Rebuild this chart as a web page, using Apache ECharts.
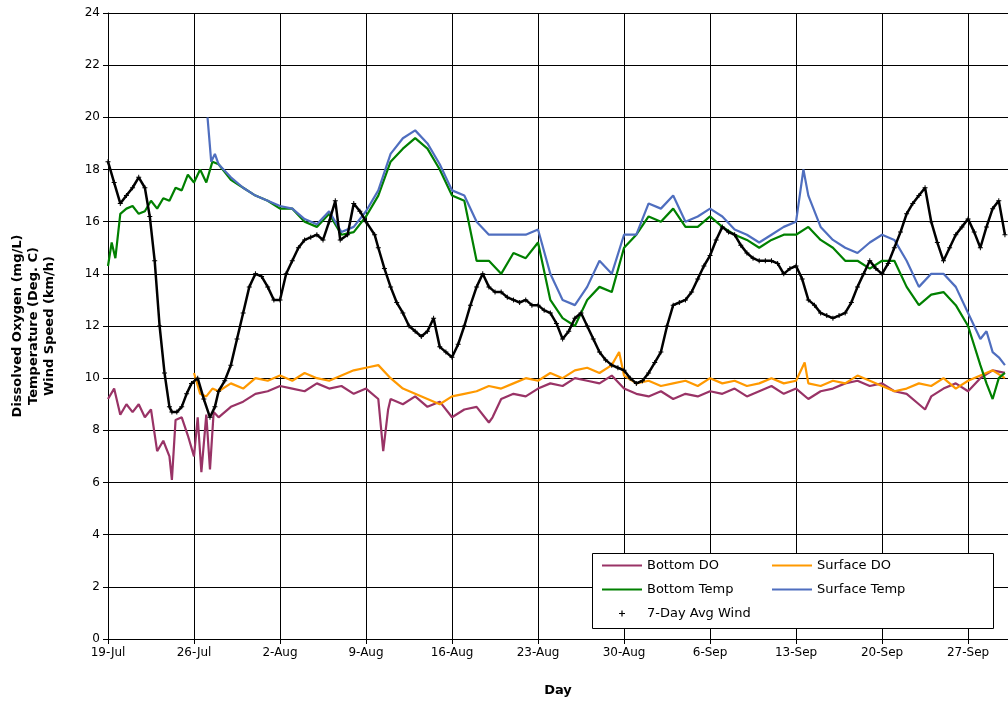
<!DOCTYPE html>
<html><head><meta charset="utf-8">
<script src="https://cdn.jsdelivr.net/npm/echarts@6/dist/echarts.min.js"></script>
<style>html,body{margin:0;background:#fff}#c{width:1008px;height:702px}</style>
</head><body><div id="c"></div>
<script>
const tickLabels=['19-Jul','26-Jul','2-Aug','9-Aug','16-Aug','23-Aug','30-Aug','6-Sep','13-Sep','20-Sep','27-Sep'];
const botDODays=[0,0.5,1,1.5,2,2.5,3,3.5,4,4.5,5,5.2,5.5,6,6.5,7,7.3,7.6,8,8.3,8.6,9,10,11,12,13,14,15,16,17,18,19,20,21,22,22.4,22.8,23,24,25,26,27,28,29,30,31,31.3,32,33,34,35,36,37,38,39,40,41,42,43,44,45,46,47,48,49,50,51,52,53,54,55,56,57,58,59,60,61,62,63,64,65,66,66.5,67,68,69,70,71,72,73];
const botDO=[9.2,9.6,8.6,9.0,8.7,9.0,8.5,8.8,7.2,7.6,7.0,6.1,8.4,8.5,7.8,7.0,8.5,6.4,8.6,6.5,8.7,8.5,8.9,9.1,9.4,9.5,9.7,9.6,9.5,9.8,9.6,9.7,9.4,9.6,9.2,7.2,8.8,9.2,9.0,9.3,8.9,9.1,8.5,8.8,8.9,8.3,8.5,9.2,9.4,9.3,9.6,9.8,9.7,10.0,9.9,9.8,10.1,9.6,9.4,9.3,9.5,9.2,9.4,9.3,9.5,9.4,9.6,9.3,9.5,9.7,9.4,9.6,9.2,9.5,9.6,9.8,9.9,9.7,9.8,9.5,9.4,9.0,8.8,9.3,9.6,9.8,9.5,10.0,10.3,10.2];
const surfDODays=[7,7.5,8,8.5,9,10,11,12,13,14,15,16,17,18,19,20,21,22,23,24,25,26,27,28,29,30,31,32,33,34,35,36,37,38,39,40,41,41.6,42,43,44,45,46,47,48,49,50,51,52,53,54,55,56,56.7,57,58,59,60,61,62,63,64,65,66,67,68,69,70,71,72,73];
const surfDO=[10.2,9.4,9.3,9.6,9.5,9.8,9.6,10.0,9.9,10.1,9.9,10.2,10.0,9.9,10.1,10.3,10.4,10.5,10.0,9.6,9.4,9.2,9.0,9.3,9.4,9.5,9.7,9.6,9.8,10.0,9.9,10.2,10.0,10.3,10.4,10.2,10.5,11.0,10.1,9.8,9.9,9.7,9.8,9.9,9.7,10.0,9.8,9.9,9.7,9.8,10.0,9.8,9.9,10.6,9.8,9.7,9.9,9.8,10.1,9.9,9.7,9.5,9.6,9.8,9.7,10.0,9.6,9.9,10.1,10.3,10.0];
const botTDays=[0,0.3,0.6,1,1.5,2,2.5,3,3.5,4,4.5,5,5.5,6,6.5,7,7.5,8,8.5,9,10,11,12,13,14,15,16,17,18,19,20,21,22,23,24,25,26,27,28,29,30,31,32,33,34,35,36,37,38,39,40,41,42,43,44,45,46,47,48,49,50,51,52,53,54,55,56,57,58,59,60,61,62,63,64,65,66,67,68,69,70,71,71.5,72,72.5,73];
const botT=[14.3,15.2,14.6,16.3,16.5,16.6,16.3,16.4,16.8,16.5,16.9,16.8,17.3,17.2,17.8,17.5,18.0,17.5,18.3,18.2,17.6,17.3,17.0,16.8,16.5,16.5,16.0,15.8,16.3,15.5,15.6,16.2,17.0,18.3,18.8,19.2,18.8,18.0,17.0,16.8,14.5,14.5,14.0,14.8,14.6,15.2,13.0,12.3,12.0,13.0,13.5,13.3,15.0,15.5,16.2,16.0,16.5,15.8,15.8,16.2,15.8,15.5,15.3,15.0,15.3,15.5,15.5,15.8,15.3,15.0,14.5,14.5,14.2,14.5,14.5,13.5,12.8,13.2,13.3,12.8,12.0,10.5,9.8,9.2,10.0,10.2];
const surfTDays=[8.1,8.4,8.7,9,10,11,12,13,14,15,16,17,18,19,20,21,22,23,24,25,26,27,28,29,30,31,32,33,34,35,36,37,38,39,40,41,42,43,44,45,46,47,48,49,50,51,52,53,54,55,56,56.6,57,58,59,60,61,62,63,64,65,66,67,68,69,70,71,71.5,72,72.5,73];
const surfT=[20.0,18.3,18.6,18.2,17.7,17.3,17.0,16.8,16.6,16.5,16.1,15.9,16.4,15.6,15.8,16.4,17.2,18.6,19.2,19.5,19.0,18.2,17.2,17.0,16.0,15.5,15.5,15.5,15.5,15.7,14.0,13.0,12.8,13.5,14.5,14.0,15.5,15.5,16.7,16.5,17.0,16.0,16.2,16.5,16.2,15.7,15.5,15.2,15.5,15.8,16.0,18.0,17.0,15.8,15.3,15.0,14.8,15.2,15.5,15.3,14.5,13.5,14.0,14.0,13.5,12.5,11.5,11.8,11.0,10.8,10.5];
const windDays=[0,0.5,1,1.5,2,2.5,3,3.4,3.8,4.2,4.6,5,5.2,5.6,6,6.4,6.8,7.3,7.8,8.3,8.7,9,9.5,10,10.5,11,11.5,12,12.5,13,13.5,14,14.5,15,15.5,16,16.5,17,17.5,18,18.5,18.9,19.5,20,20.5,21,21.7,22,22.5,23,23.5,24,24.5,25,25.5,26,26.5,27,27.5,28,28.5,29,29.5,30,30.5,31,31.5,32,32.5,33,33.5,34,34.5,35,35.5,36,36.5,37,37.5,38,38.5,39,39.5,40,40.5,41,41.5,42,42.5,43,43.5,44,44.5,45,45.5,46,46.5,47,47.5,48,48.5,49,49.5,50,50.5,51,51.5,52,52.5,53,53.5,54,54.5,55,55.5,56,56.5,57,57.5,58,58.5,59,59.5,60,60.5,61,61.5,62,62.5,63,63.5,64,64.5,65,65.5,66,66.5,67,67.5,68,68.5,69,69.5,70,70.5,71,71.5,72,72.5,73];
const wind=[18.3,17.5,16.7,17.0,17.3,17.7,17.3,16.2,14.5,12.0,10.2,8.9,8.7,8.7,8.9,9.4,9.8,10.0,9.2,8.5,8.9,9.5,9.9,10.5,11.5,12.5,13.5,14.0,13.9,13.5,13.0,13.0,14.0,14.5,15.0,15.3,15.4,15.5,15.3,16.0,16.8,15.3,15.5,16.7,16.4,16.0,15.5,15.0,14.2,13.5,12.9,12.5,12.0,11.8,11.6,11.8,12.3,11.2,11.0,10.8,11.3,12.0,12.8,13.5,14.0,13.5,13.3,13.3,13.1,13.0,12.9,13.0,12.8,12.8,12.6,12.5,12.1,11.5,11.8,12.3,12.5,12.0,11.5,11.0,10.7,10.5,10.4,10.3,10.0,9.8,9.9,10.2,10.6,11.0,12.0,12.8,12.9,13.0,13.3,13.8,14.3,14.7,15.3,15.8,15.6,15.5,15.1,14.8,14.6,14.5,14.5,14.5,14.4,14.0,14.2,14.3,13.8,13.0,12.8,12.5,12.4,12.3,12.4,12.5,12.9,13.5,14.0,14.5,14.2,14.0,14.4,15.0,15.6,16.3,16.7,17.0,17.3,16.0,15.2,14.5,15.0,15.5,15.8,16.1,15.6,15.0,15.8,16.5,16.8,15.5];
const pairs=(d,v)=>d.map((x,i)=>[x,v[i]]);
const chart=echarts.init(document.getElementById('c'));
const F='DejaVu Sans';
const CROSS='path://M4,0H6V4H10V6H6V10H4V6H0V4H4Z';
const LCROSS='path://M0,0L0,0ZM40,10L40,10ZM19.4,2H20.6V4.4H23V5.6H20.6V8H19.4V5.6H17V4.4H19.4Z';
const LINE='path://M0,0L0,0ZM40,10L40,10ZM0,4H40V6H0Z';
const legBase={orient:'vertical',itemGap:11,itemWidth:40,itemHeight:10,padding:0,
  textStyle:{fontFamily:F,fontSize:13,color:'#000'}};
chart.setOption({
  animation:false,
  grid:{left:108,right:0,top:13,bottom:61,containLabel:false},
  graphic:[{type:'rect',left:592,top:553,shape:{width:401,height:75},style:{fill:'#fff',stroke:'#000',lineWidth:1},z:100}],
  xAxis:{type:'value',min:0,max:73.25,interval:7,name:'Day',nameLocation:'middle',nameGap:45,
    nameTextStyle:{fontFamily:F,fontWeight:'bold',fontSize:13,color:'#000'},
    axisLine:{lineStyle:{color:'#000'}},axisTick:{show:true,lineStyle:{color:'#000'}},
    axisLabel:{fontFamily:F,fontSize:12,color:'#000',showMaxLabel:false,formatter:v=>tickLabels[Math.round(v/7)]||''},
    splitLine:{show:true,lineStyle:{color:'#000',width:1}}},
  yAxis:{type:'value',min:0,max:24,interval:2,name:'Dissolved Oxygen (mg/L)\nTemperature (Deg. C)\nWind Speed (km/h)',
    nameLocation:'middle',nameGap:50,nameTextStyle:{fontFamily:F,fontWeight:'bold',fontSize:13,color:'#000',lineHeight:16},
    axisLine:{show:true,lineStyle:{color:'#000'}},axisTick:{show:true,lineStyle:{color:'#000'}},
    axisLabel:{fontFamily:F,fontSize:12,color:'#000'},
    splitLine:{lineStyle:{color:'#000',width:1}}},
  legend:[
    Object.assign({left:602,top:559,z:110,data:[{name:'Bottom DO',icon:LINE},{name:'Bottom Temp',icon:LINE},{name:'7-Day Avg Wind',icon:LCROSS,itemStyle:{color:'#000'}}]},legBase),
    Object.assign({left:772,top:559,z:110,data:[{name:'Surface DO',icon:LINE},{name:'Surface Temp',icon:LINE}]},legBase)
  ],
  series:[
    {name:'Bottom DO',type:'line',symbol:'none',data:pairs(botDODays,botDO),lineStyle:{color:'#993366',width:2.2},itemStyle:{color:'#993366'}},
    {name:'Surface DO',type:'line',symbol:'none',data:pairs(surfDODays,surfDO),lineStyle:{color:'#FF9900',width:2.2},itemStyle:{color:'#FF9900'}},
    {name:'Bottom Temp',type:'line',symbol:'none',data:pairs(botTDays,botT),lineStyle:{color:'#008000',width:2.2},itemStyle:{color:'#008000'}},
    {name:'Surface Temp',type:'line',symbol:'none',data:pairs(surfTDays,surfT),lineStyle:{color:'#4F6EBF',width:2.2},itemStyle:{color:'#4F6EBF'}},
    {name:'7-Day Avg Wind',type:'line',data:pairs(windDays,wind),symbol:CROSS,symbolSize:5,showSymbol:true,
      lineStyle:{color:'#000',width:2.5},itemStyle:{color:'#000'}}
  ]
});
</script></body></html>
